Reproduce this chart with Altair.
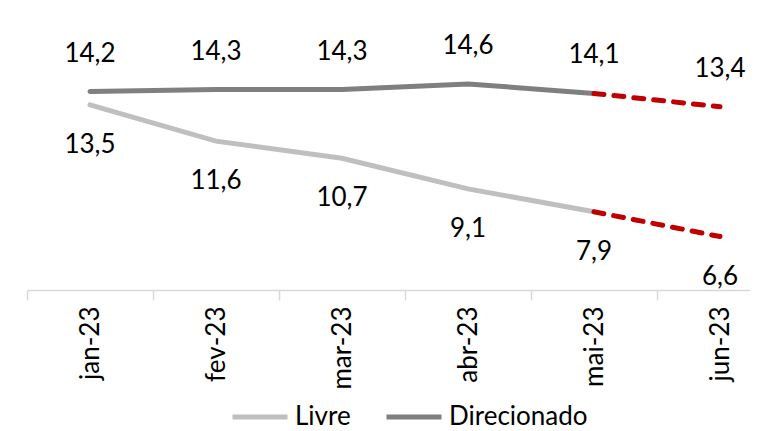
import altair as alt
import pandas as pd

months = ["jan-23", "fev-23", "mar-23", "abr-23", "mai-23", "jun-23"]
livre = [13.5, 11.6, 10.7, 9.1, 7.9, 6.6]
direcionado = [14.2, 14.3, 14.3, 14.6, 14.1, 13.4]
series_names = ["Livre", "Direcionado"]
solid_months = months[:5]
dashed_months = months[4:]

rows = []
for name, vals in zip(series_names, [livre, direcionado]):
    for m, v in zip(months, vals):
        rows.append({"month": m, "serie": name, "value": v,
                     "label": f"{v:.1f}".replace(".", ","),
                     "solid": m in solid_months, "dashed": m in dashed_months})
df = pd.DataFrame(rows)

FONT = "Lato"
xenc = alt.X("month:N", sort=months, bandPosition=0.5,
             scale=alt.Scale(type="band", paddingInner=0, paddingOuter=0, range=[0, 756]),
             axis=alt.Axis(title=None, labelAngle=-90, labelFont=FONT, labelFontSize=26,
                           labelColor="black", domainColor="#D9D9D9", domainWidth=1.5,
                           tickColor="#D9D9D9", tickSize=10, tickWidth=1.5, tickBand="extent",
                           labelPadding=6, grid=False))
yenc = alt.Y("value:Q", scale=alt.Scale(domain=[3.8, 18]), axis=None)

base = alt.Chart(df)

solid = base.transform_filter("datum.solid").mark_line(strokeWidth=5, strokeCap="round").encode(
    x=xenc, y=yenc,
    color=alt.Color("serie:N",
                    scale=alt.Scale(domain=series_names, range=["#BFBFBF", "#7F7F7F"]),
                    legend=alt.Legend(title=None, orient="none", legendX=203, legendY=368,
                                      direction="horizontal", symbolType="stroke",
                                      symbolSize=3025, symbolStrokeWidth=5,
                                      labelFont=FONT, labelFontSize=26, labelColor="black",
                                      columnPadding=25, labelOffset=5)),
)

dashed = base.transform_filter("datum.dashed").mark_line(
    strokeWidth=5, strokeCap="round", strokeDash=[10, 10], color="#C00000").encode(
    x=xenc, y=yenc, detail="serie:N")

lbl_dir = base.transform_filter("datum.serie == 'Direcionado'").mark_text(
    dy=-38, font=FONT, fontSize=26, color="black", baseline="middle").encode(
    x=xenc, y=yenc, text="label:N")
lbl_liv = base.transform_filter("datum.serie == 'Livre'").mark_text(
    dy=40, font=FONT, fontSize=26, color="black", baseline="middle").encode(
    x=xenc, y=yenc, text="label:N")

chart = alt.layer(solid, dashed, lbl_dir, lbl_liv).properties(
    width=723, height=271,
    autosize=alt.AutoSizeParams(type="none"),
    padding={"left": 19, "top": 11, "right": 0, "bottom": 140},
).configure_view(stroke=None)

chart.save("out.html", embed_options={"renderer": "svg", "actions": False})
